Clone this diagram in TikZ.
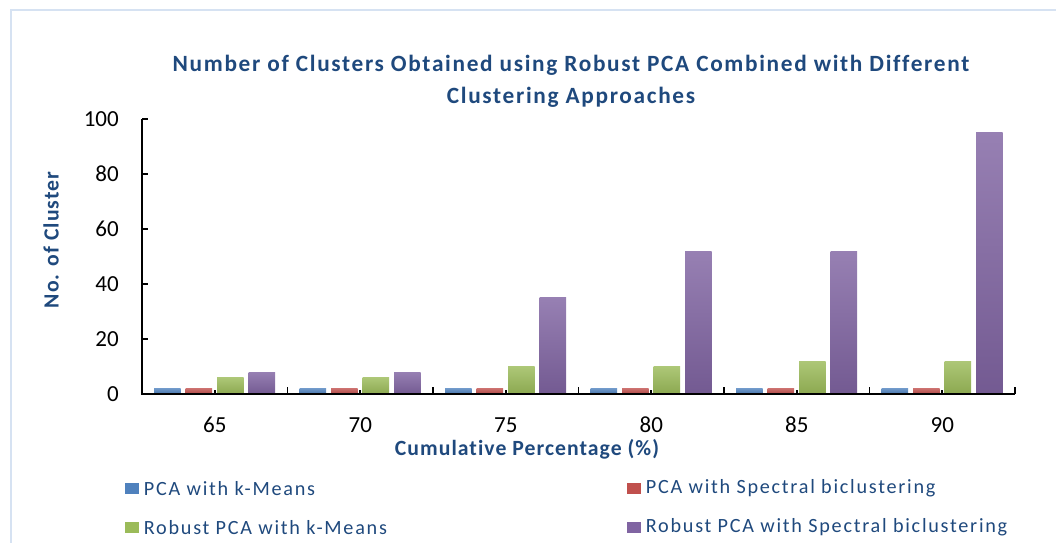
\documentclass[tikz,border=0pt]{standalone}
\usepackage{fontspec}
\setmainfont{Carlito}[Ligatures=NoCommon]
\newfontfamily\titlefont{Carlito}[Ligatures=NoCommon, LetterSpace=7.2]
\newfontfamily\axfont{Carlito}[Ligatures=NoCommon, LetterSpace=4.8]
\newfontfamily\legfont{Carlito}[Ligatures=NoCommon, LetterSpace=8.6]
\usepackage{tikz}
\usetikzlibrary{positioning}
\definecolor{titleblue}{RGB}{31,73,125}
\definecolor{framecol}{RGB}{214,226,242}
\definecolor{barblue}{RGB}{79,129,189}
\definecolor{barred}{RGB}{192,80,77}
\definecolor{bargreen}{RGB}{155,187,89}
\definecolor{barpurple}{RGB}{128,100,162}

\begin{document}
\begin{tikzpicture}[x=1pt, y=-1pt,
    lbl/.style={font=\fontsize{23}{27}\selectfont, text=black, inner sep=0pt},
    axtitle/.style={font=\axfont\fontsize{21.7}{25}\selectfont\bfseries, text=titleblue, inner sep=0pt},
    legtext/.style={font=\legfont\fontsize{20.2}{24}\selectfont, text=titleblue, inner sep=0pt},
    legsq/.style={rectangle, minimum width=14pt, minimum height=11pt, inner sep=0pt},
    axis/.style={line width=1.6pt, black}]
\useasboundingbox (0,0) rectangle (1056,542);
% frame of the chart area
\draw[framecol, line width=1.5pt] (11,560) -- (11,10) -- (1070,10);
% title
\node[font=\titlefont\fontsize{23.3}{32}\selectfont\bfseries, text=titleblue, align=center] (title) at (571,81)
    {Number of Clusters Obtained using Robust PCA Combined with Different\\Clustering Approaches};
% bars
\foreach \cat/\a/\b/\c/\d [count=\i from 0] in
    {65/2/2/6/8, 70/2/2/6/8, 75/2/2/10/35, 80/2/2/10/52, 85/2/2/12/52, 90/2/2/12/95} {
  \pgfmathsetmacro\xb{142+145.5*\i}
  \foreach \v/\col [count=\j from 0] in {\a/barblue, \b/barred, \c/bargreen, \d/barpurple}
    \shade[top color=\col!82!white, bottom color=\col!90!black]
      (\xb+12+31.5*\j,394) rectangle ++(26.5,-2.75*\v);
  \draw[axis] (\xb+72.75,394) -- ++(0,-4);
  \node[lbl] (x\cat) at (\xb+72.75,425) {\cat};
}
% axes
\draw[axis] (142,119) -- (142,394) -- (1015,394);
\foreach \k in {0,...,6}
  \draw[axis] (142+145.5*\k,394) -- ++(0,-7);
\foreach \t in {0,20,...,100} {
  \draw[axis] (142,394-2.75*\t) -- ++(6,0);
  \node[lbl, anchor=east] (y\t) at (119,394-2.75*\t) {\t};
}
\node[axtitle] (xtitle) at (527,449) {Cumulative Percentage (\%)};
\node[axtitle, rotate=90] (ytitle) at (51,240) {No. of Cluster};
% legend
\node[legsq, fill=barblue] (kb) at (131.5,488.5) {};
\node[legtext, right=5pt of kb] (lb) {PCA with k-Means};
\node[legsq, fill=barred] (kr) at (633.5,488.5) {};
\node[legtext, right=5pt of kr] (lr) {PCA with Spectral biclustering};
\node[legsq, fill=bargreen] (kg) at (131.5,527.5) {};
\node[legtext, right=5pt of kg] (lg) {Robust PCA with k-Means};
\node[legsq, fill=barpurple] (kp) at (633.5,527.5) {};
\node[legtext, right=5pt of kp] (lp) {Robust PCA with Spectral biclustering};
\end{tikzpicture}
\end{document}
